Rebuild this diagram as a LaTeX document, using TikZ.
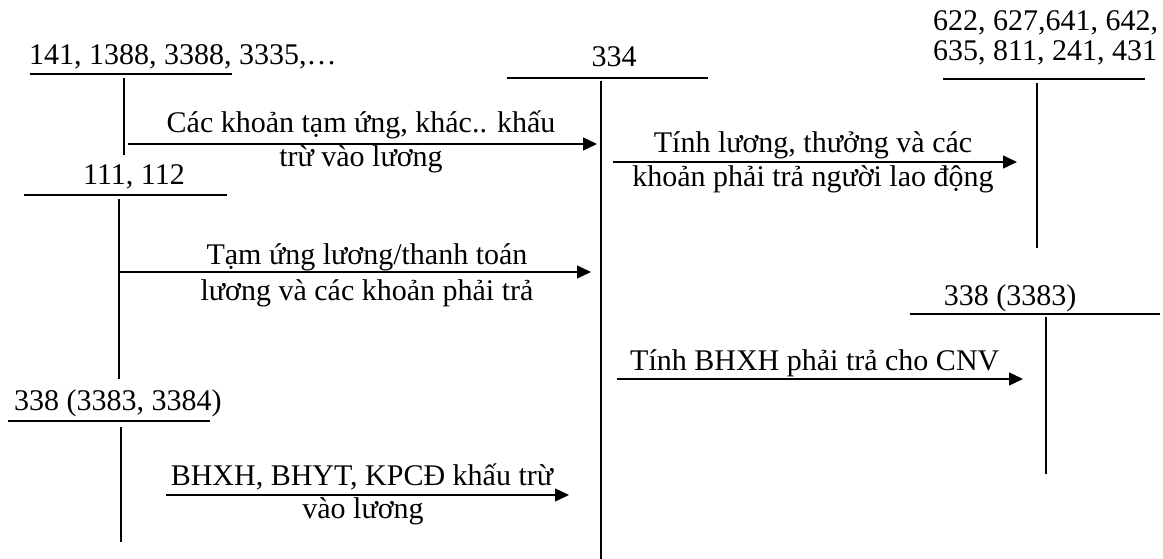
\documentclass[tikz,border=0pt]{standalone}
\usepackage{fontspec}
\setmainfont{Liberation Serif}
\usetikzlibrary{arrows.meta}
\begin{document}
\begin{tikzpicture}[x=1pt,y=-1pt,
  lbl/.style={font=\fontsize{30}{33}\selectfont, inner sep=0pt, anchor=base},
  acct/.style={line width=1.4pt},
  flow/.style={line width=1.4pt, -{Triangle[length=14pt,width=13pt]}}]
\useasboundingbox (0,0) rectangle (1163,559);

% ---- T-accounts: title, rule, and vertical stem ----
% 141, 1388, ...
\node[lbl, anchor=base west] (t141) at (29,65) {141, 1388, 3388, 3335,…};
\draw[acct] (30,74) -- (232,74);
\coordinate (s141a) at (124,78);
\coordinate (s141b) at (124,155);
\draw[acct] (s141a) -- (s141b);

% 111, 112
\node[lbl] (t111) at (134,185) {111, 112};
\draw[acct] (24,195) -- (227,195);
\coordinate (s111a) at (119,199);
\coordinate (s111b) at (119,379);
\draw[acct] (s111a) -- (s111b);

% 338 (3383, 3384)
\node[lbl, anchor=base west] (t3384) at (14,410) {338 (3383, 3384)};
\draw[acct] (8,421) -- (210,421);
\coordinate (s3384a) at (121,427);
\coordinate (s3384b) at (121,542);
\draw[acct] (s3384a) -- (s3384b);

% 334
\node[lbl] (t334) at (614,67) {334};
\draw[acct] (507,78) -- (708,78);
\coordinate (s334a) at (601,81);
\coordinate (s334b) at (601,559);
\draw[acct] (s334a) -- (s334b);

% 622, 627, ...
\node[lbl, anchor=base west] (t622a) at (933,31) {622, 627,641, 642,};
\node[lbl, anchor=base west] (t622b) at (933,61) {635, 811, 241, 431};
\draw[acct] (943,79) -- (1145,79);
\coordinate (s622a) at (1037,83);
\coordinate (s622b) at (1037,248);
\draw[acct] (s622a) -- (s622b);

% 338 (3383)
\node[lbl] (t3383) at (1010,305) {338 (3383)};
\draw[acct] (910,314) -- (1160,314);
\coordinate (s3383a) at (1046,317);
\coordinate (s3383b) at (1046,474);
\draw[acct] (s3383a) -- (s3383b);

% ---- Entries ----
\coordinate (f1a) at (128,144);
\coordinate (f1b) at (597,144);
\draw[flow] (f1a) -- (f1b);
\node[lbl] (l1a) at (361,133) {Các khoản tạm ứng, khác.. khấu};
\node[lbl] (l1b) at (361,167) {trừ vào lương};

\coordinate (f2a) at (120,272);
\coordinate (f2b) at (591,272);
\draw[flow] (f2a) -- (f2b);
\node[lbl] (l2a) at (367,265) {Tạm ứng lương/thanh toán};
\node[lbl] (l2b) at (367,300) {lương và các khoản phải trả};

\coordinate (f5a) at (166,495);
\coordinate (f5b) at (569,495);
\draw[flow] (f5a) -- (f5b);
\node[lbl] (l5a) at (362,485) {BHXH, BHYT, KPCĐ khấu trừ};
\node[lbl] (l5b) at (363,518) {vào lương};

\coordinate (f3a) at (613,162);
\coordinate (f3b) at (1017,162);
\draw[flow] (f3a) -- (f3b);
\node[lbl] (l3a) at (813,153) {Tính lương, thưởng và các};
\node[lbl] (l3b) at (813,187) {khoản phải trả người lao động};

\coordinate (f4a) at (617,379);
\coordinate (f4b) at (1023,379);
\draw[flow] (f4a) -- (f4b);
\node[lbl, anchor=base west] (l4) at (630,370) {Tính BHXH phải trả cho CNV};
\end{tikzpicture}
\end{document}
